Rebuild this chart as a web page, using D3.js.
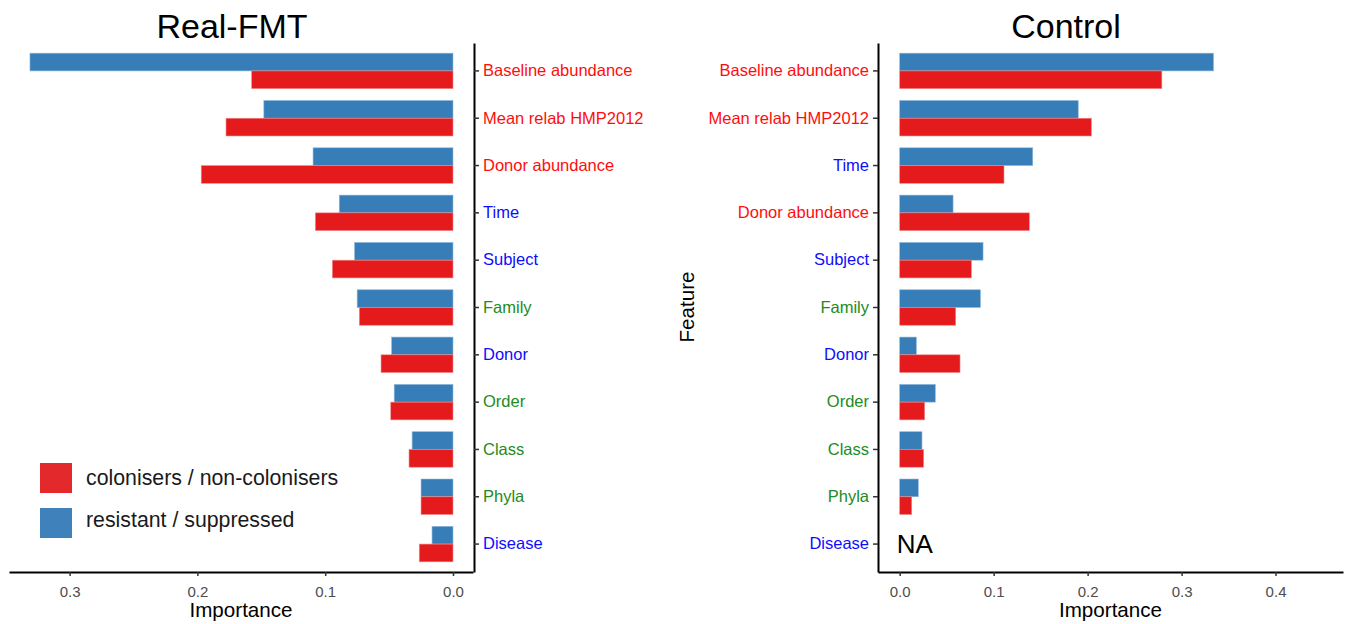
<!DOCTYPE html>
<html><head><meta charset="utf-8">
<script src="https://cdn.jsdelivr.net/npm/d3@7"></script>
<style>
body{margin:0;background:#fff;}
text{font-family:"Liberation Sans",Arial,Helvetica,sans-serif;}
</style></head>
<body>
<svg id="chart" width="1349" height="624"></svg>
<script>
const features = ["Baseline abundance","Mean relab HMP2012","Donor abundance","Time","Subject","Family","Donor","Order","Class","Phyla","Disease"];
const featureGroup = ["red","red","red","blue","blue","green","blue","green","green","green","blue"];
const controlOrder = ["Baseline abundance","Mean relab HMP2012","Time","Donor abundance","Subject","Family","Donor","Order","Class","Phyla","Disease"];
const controlGroup = ["red","red","blue","red","blue","green","blue","green","green","green","blue"];
const series = ["resistant / suppressed","colonisers / non-colonisers"];
const seriesColors = ["#377eb8","#e41a1c"];
// Real-FMT importance
const fmtResistant  = [0.331,0.148,0.1095,0.089,0.077,0.075,0.048,0.046,0.032,0.025,0.0164];
const fmtColonisers = [0.1575,0.1776,0.197,0.1077,0.0944,0.0733,0.0563,0.0487,0.0344,0.025,0.0264];
// Control importance (Disease = NA)
const ctlResistant  = [0.334,0.190,0.1416,0.0568,0.0887,0.0859,0.0177,0.0379,0.0237,0.0198,null];
const ctlColonisers = [0.279,0.204,0.111,0.138,0.0763,0.0596,0.0642,0.0266,0.0255,0.0128,null];
const fmtTicks = [0.3,0.2,0.1,0.0];
const ctlTicks = [0.0,0.1,0.2,0.3,0.4];
const labelColors = {red:"#ff0d0d", blue:"#0d0dff", green:"#228B22"};

const svg = d3.select("#chart");
const plotTop = 43, plotBottom = 572;

function panel(opts){
  const g = svg.append("g");
  const y = d3.scaleBand().domain(opts.cats).range([plotTop,plotBottom]).paddingInner(0.25).paddingOuter(0.215);
  const ys = d3.scaleBand().domain(series).range([0,y.bandwidth()]);
  const x = opts.x;
  const rows = opts.cats.map((c,i)=>({cat:c, vals:[opts.res[i],opts.col[i]]}));
  rows.forEach(r=>{
    r.vals.forEach((v,j)=>{
      if(v==null) return;
      const x0 = x(0), x1 = x(v);
      g.append("rect")
        .attr("x",Math.min(x0,x1)).attr("width",Math.abs(x1-x0))
        .attr("y",y(r.cat)+ys(series[j])).attr("height",ys.bandwidth())
        .attr("fill",seriesColors[j])
        .attr("stroke",j===0?"#8fb8de":"#f08a8b").attr("stroke-width",0.6);
    });
  });
  // x axis
  const xa = g.append("g").attr("transform",`translate(0,${plotBottom})`)
    .call(d3.axisBottom(x).tickValues(opts.ticks).tickFormat(d3.format(".1f")).tickSize(4).tickSizeOuter(0));
  xa.select(".domain").attr("stroke","#000").attr("stroke-width",2);
  xa.selectAll(".tick line").attr("stroke","#333").attr("stroke-width",1.5);
  xa.selectAll(".tick text").attr("fill","#4d4d4d").attr("font-size",15).attr("dy","1.2em");
  // y axis
  const ya = g.append("g").attr("transform",`translate(${opts.yAxisX},0)`)
    .call((opts.side==="right"?d3.axisRight(y):d3.axisLeft(y)).tickSize(5).tickSizeOuter(0).tickPadding(4));
  ya.select(".domain").attr("stroke","#000").attr("stroke-width",2);
  ya.selectAll(".tick line").attr("stroke","#333").attr("stroke-width",1.5);
  ya.selectAll(".tick text").attr("font-size",16.5)
    .attr("fill",(d,i)=>labelColors[opts.groups[i]]);
  // x title
  g.append("text").attr("x",(x.range()[0]+x.range()[1])/2).attr("y",617)
    .attr("text-anchor","middle").attr("font-size",20.6).attr("fill","#000").text("Importance");
  // title
  g.append("text").attr("x",opts.titleX).attr("y",38).attr("text-anchor","middle")
    .attr("font-size",34).attr("fill","#000").text(opts.title);
  return {g,x,y};
}

const xL = d3.scaleLinear().domain([-0.01565,0.3474]).range([473,9]);
const left = panel({cats:features, groups:featureGroup, res:fmtResistant, col:fmtColonisers,
  x:xL, ticks:fmtTicks, yAxisX:474, side:"right", title:"Real-FMT", titleX:232});

const xR = d3.scaleLinear().domain([-0.0231,0.4718]).range([878,1343]);
const right = panel({cats:controlOrder, groups:controlGroup, res:ctlResistant, col:ctlColonisers,
  x:xR, ticks:ctlTicks, yAxisX:878, side:"left", title:"Control", titleX:1066});

// NA text
right.g.append("text").attr("x",xR(0)-3).attr("y",right.y("Disease")+right.y.bandwidth()/2)
  .attr("dy","0.36em").attr("font-size",26).attr("fill","#000").text("NA");

// Feature y title
svg.append("text").attr("transform","translate(694,307) rotate(-90)")
  .attr("text-anchor","middle").attr("font-size",20.6).attr("fill","#000").text("Feature");

// legend
const legendItems = [series[1],series[0]];
const legendColors = ["#e3292b","#3f82bb"];
const lg = svg.append("g");
legendItems.forEach((s,i)=>{
  lg.append("rect").attr("x",40).attr("y",463+i*45).attr("width",32).attr("height",30)
    .attr("fill",legendColors[i]);
  lg.append("text").attr("x",86).attr("y",477+i*42).attr("dy","0.36em")
    .attr("font-size",21.3).attr("fill","#1a1a1a").text(s);
});
</script>
</body></html>
